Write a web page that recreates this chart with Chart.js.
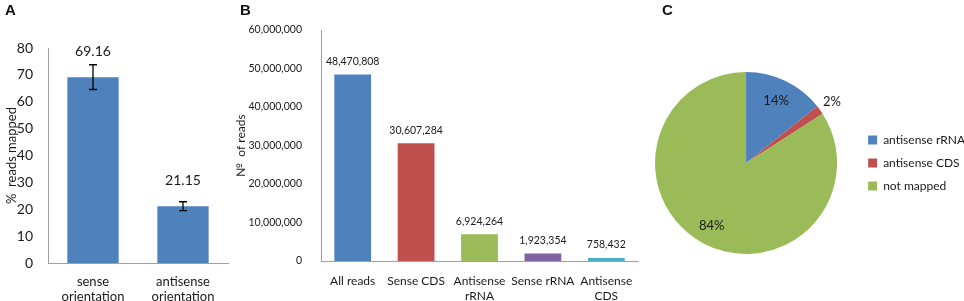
<!DOCTYPE html>
<html>
<head>
<meta charset="utf-8">
<script src="https://cdn.jsdelivr.net/npm/chart.js@4.4.1/dist/chart.umd.min.js"></script>
<style>
    body { margin: 0; background: #fff; width: 964px; height: 301px; position: relative; overflow: hidden; }
    canvas { position: absolute; top: 0; }
    .tag { position: absolute; top: 1px; font: bold 15px "Liberation Sans", Arial, sans-serif; color: #111; }
</style>
</head>
<body>
<canvas id="chartA" width="232" height="301" style="left:0"></canvas>
<canvas id="chartB" width="410" height="301" style="left:232px"></canvas>
<canvas id="chartC" width="340" height="301" style="left:635px"></canvas>
<div class="tag" style="left:5px">A</div>
<div class="tag" style="left:240px">B</div>
<div class="tag" style="left:662px">C</div>
<script>
// Panel A
const orientLabels = [['sense', 'orientation'], ['antisense', 'orientation']];
const pctMapped = [69.16, 21.15];
const pctError = [4.6, 1.65];
const pctTicks = [0, 10, 20, 30, 40, 50, 60, 70, 80];

// Panel B
const readCategories = [['All reads'], ['Sense CDS'], ['Antisense', 'rRNA'], ['Sense rRNA'], ['Antisense', 'CDS']];
const readCounts = [48470808, 30607284, 6924264, 1923354, 758432];

// Panel C
const pieLabels = ['antisense rRNA', 'antisense CDS', 'not mapped'];
const pieShares = [14.3, 1.6, 84.1];

const BLUE = '#4F81BD', RED = '#C0504D', GREEN = '#9BBB59', PURPLE = '#8064A2', CYAN = '#4BACC6';
const FONT = 'Lato, "Open Sans", sans-serif';
const TXT = '#1a1a1a';
const AXIS = '#a0a0a0';

Chart.defaults.animation = false;
Chart.defaults.font.family = FONT;
Chart.defaults.color = TXT;
Chart.defaults.plugins.tooltip.enabled = false;

// texte au-dessus des barres
const barValues = {
    id: 'barValues',
    afterDatasetsDraw(chart, args, opts) {
        if (!opts || !opts.show) return;
        const ctx = chart.ctx;
        const meta = chart.getDatasetMeta(0);
        ctx.save();
        ctx.font = opts.font;
        ctx.fillStyle = TXT;
        ctx.textAlign = 'center';
        ctx.textBaseline = 'middle';
        meta.data.forEach((bar, i) => {
            const v = chart.data.datasets[0].data[i];
            ctx.fillText(opts.format(v), bar.x, bar.y - opts.offset);
        });
        ctx.restore();
    }
};

const errorBars = {
    id: 'errorBars',
    afterDatasetsDraw(chart, args, opts) {
        if (!opts || !opts.errors) return;
        const ctx = chart.ctx;
        const y = chart.scales.y;
        const meta = chart.getDatasetMeta(0);
        ctx.save();
        ctx.strokeStyle = '#000';
        ctx.lineWidth = 1.3;
        meta.data.forEach((bar, i) => {
            const v = chart.data.datasets[0].data[i];
            const e = opts.errors[i];
            const top = y.getPixelForValue(v + e);
            const bot = y.getPixelForValue(v - e);
            ctx.beginPath();
            ctx.moveTo(bar.x, top); ctx.lineTo(bar.x, bot);
            ctx.moveTo(bar.x - 4, top); ctx.lineTo(bar.x + 4, top);
            ctx.moveTo(bar.x - 4, bot); ctx.lineTo(bar.x + 4, bot);
            ctx.stroke();
        });
        ctx.restore();
    }
};

const pieValues = {
    id: 'pieValues',
    afterDatasetsDraw(chart, args, opts) {
        if (!opts || !opts.show) return;
        const ctx = chart.ctx;
        const meta = chart.getDatasetMeta(0);
        ctx.save();
        ctx.font = opts.font;
        ctx.fillStyle = TXT;
        ctx.textAlign = 'center';
        ctx.textBaseline = 'middle';
        meta.data.forEach((arc, i) => {
            const mid = (arc.startAngle + arc.endAngle) / 2;
            const f = opts.radial[i];
            const x = arc.x + Math.cos(mid) * arc.outerRadius * f;
            const yy = arc.y + Math.sin(mid) * arc.outerRadius * f;
            ctx.fillText(Math.round(chart.data.datasets[0].data[i]) + '%', x, yy);
        });
        ctx.restore();
    }
};

Chart.register(barValues, errorBars, pieValues);

new Chart(document.getElementById('chartA'), {
    type: 'bar',
    data: {
        labels: orientLabels,
        datasets: [{
            data: pctMapped,
            backgroundColor: BLUE,
            categoryPercentage: 1,
            barPercentage: 0.57
        }]
    },
    options: {
        responsive: false,
        layout: { padding: { top: 48, right: 4, bottom: 0, left: 0 } },
        plugins: {
            legend: { display: false },
            barValues: { show: true, offset: 26, font: '14px ' + FONT, format: v => v.toFixed(2) },
            errorBars: { errors: pctError }
        },
        scales: {
            x: {
                grid: { display: false },
                border: { color: AXIS },
                ticks: { font: { size: 13, lineHeight: 1.15 }, padding: 3, maxRotation: 0, autoSkip: false },
                afterFit: s => { s.height = 38; }
            },
            y: {
                min: 0,
                max: 80,
                afterBuildTicks: s => { s.ticks = pctTicks.map(v => ({ value: v })); },
                grid: { display: false },
                border: { color: AXIS },
                ticks: { font: { size: 14 }, padding: 7 },
                title: { display: true, text: '%  reads mapped', font: { size: 13 }, padding: { top: 4, bottom: 0 } },
                afterFit: s => { s.width = 48; }
            }
        }
    }
});

new Chart(document.getElementById('chartB'), {
    type: 'bar',
    data: {
        labels: readCategories,
        datasets: [{
            data: readCounts,
            backgroundColor: [BLUE, RED, GREEN, PURPLE, CYAN],
            categoryPercentage: 1,
            barPercentage: 0.58
        }]
    },
    options: {
        responsive: false,
        layout: { padding: { top: 30, right: 4, bottom: 0, left: 0 } },
        plugins: {
            legend: { display: false },
            barValues: { show: true, offset: 13, font: '10.5px ' + FONT, format: v => v.toLocaleString('en-US') }
        },
        scales: {
            x: {
                grid: { display: false },
                border: { color: AXIS },
                ticks: { font: { size: 12, lineHeight: 1.3 }, padding: 4, maxRotation: 0, autoSkip: false },
                afterFit: s => { s.height = 40; }
            },
            y: {
                min: 0,
                max: 60000000,
                ticks: { stepSize: 10000000, font: { size: 10.5 }, padding: 11, callback: v => v.toLocaleString('en-US') },
                grid: { display: false },
                border: { color: AXIS },
                title: { display: true, text: '№  of reads', font: { size: 12 }, padding: { top: 2, bottom: 4 } },
                afterFit: s => { s.width = 89; }
            }
        }
    }
});

new Chart(document.getElementById('chartC'), {
    type: 'pie',
    data: {
        labels: pieLabels,
        datasets: [{
            data: pieShares,
            backgroundColor: [BLUE, RED, GREEN],
            borderWidth: 0
        }]
    },
    options: {
        responsive: false,
        layout: { padding: { top: 72, right: 0, bottom: 47, left: 0 } },
        plugins: {
            legend: {
                position: 'right',
                labels: { boxWidth: 9, boxHeight: 9, padding: 11, font: { size: 12 }, color: TXT }
            },
            pieValues: { show: true, font: '13px ' + FONT, radial: [0.76, 1.16, 0.79] }
        }
    }
});
</script>
</body>
</html>
